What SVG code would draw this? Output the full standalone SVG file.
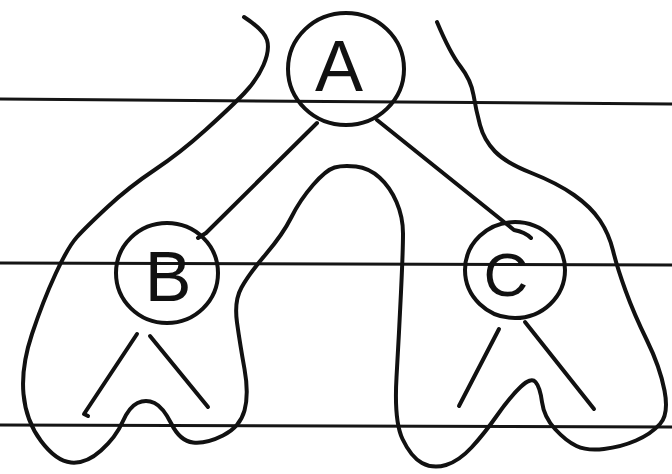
<svg xmlns="http://www.w3.org/2000/svg" width="672" height="474" viewBox="0 0 672 474">
<style>
.ink{fill:none;stroke:#111;stroke-width:4;stroke-linecap:round;stroke-linejoin:round}
.rule{fill:none;stroke:#151515;stroke-width:3}
.lbl{font-family:"Liberation Sans",Arial,sans-serif;fill:#111;text-anchor:middle}
</style>
<rect width="672" height="474" fill="#fff"/>
<g id="paper-lines">
<path class="rule" d="M0,99 L672,104"/>
<path class="rule" d="M0,263 L672,265"/>
<path class="rule" d="M0,425 L672,427"/>
</g>
<g id="connectors">
<path class="ink" d="M317,123 L206,233 L198,238"/>
<path class="ink" d="M377,120 L514,230 Q525,232 531,238"/>
<path class="ink" d="M137,334 L84,414 L88,416"/>
<path class="ink" d="M150,336 L208,407"/>
<path class="ink" d="M499,329 L459,406"/>
<path class="ink" d="M525,322 L594,409"/>
</g>
<g id="node-A">
<ellipse class="ink" cx="346" cy="69" rx="58" ry="56"/>
<text class="lbl" x="339" y="91" font-size="72">A</text>
</g>
<g id="node-B">
<ellipse class="ink" cx="167" cy="273" rx="51" ry="50"/>
<text class="lbl" x="168" y="301" font-size="70">B</text>
</g>
<g id="node-C">
<ellipse class="ink" cx="515" cy="270" rx="50" ry="48"/>
<text class="lbl" x="506" y="296" font-size="62">C</text>
</g>
<g id="traversal-contour">
<path class="ink" d="M244,17 Q264,30 267,40 Q270,50 263.5,65 Q257,80 244,93.5 Q231,107 205.5,130 Q180,153 154.5,170 Q129,187 107.5,207 Q86,227 77,237 Q68,247 55.5,274 Q43,301 32,334 Q21,367 23.5,394 Q26,421 41,441 Q56,461 71,462.5 Q86,464 101,450.5 Q116,437 122.5,422 Q129,407 137.5,403 Q146,399 154.5,403 Q163,407 171.5,424 Q180,441 193,442.5 Q206,444 223,435.5 Q240,427 244.5,410.5 Q249,394 244.5,369 Q240,344 237,322.5 Q234,301 241.5,287.5 Q249,274 266,254 Q283,234 291.5,217 Q300,200 313,185 Q326,170 334.5,167.5 Q343,165 356,166.5 Q369,168 379.5,177.5 Q390,187 396.5,202 Q403,217 403,233.5 Q403,250 401,292 Q399,334 396.5,377.5 Q394,421 402.5,439 Q411,457 422,463 Q433,469 446,465 Q459,461 471.5,447.5 Q484,434 497,415.5 Q510,397 520.5,387 Q531,377 535.5,382 Q540,387 542,402 Q544,417 555,429 Q566,441 576.5,446 Q587,451 604,449 Q621,447 636,440.5 Q651,434 660,424 Q669,414 664.5,390.5 Q660,367 647,340.5 Q634,314 625.5,290.5 Q617,267 613,250.5 Q609,234 600,220.5 Q591,207 574,195 Q557,183 531.5,173 Q506,163 495,151.5 Q484,140 480,125 Q476,110 473.5,95 Q471,80 460.5,66.5 Q450,53 437,22"/>
</g>
</svg>
